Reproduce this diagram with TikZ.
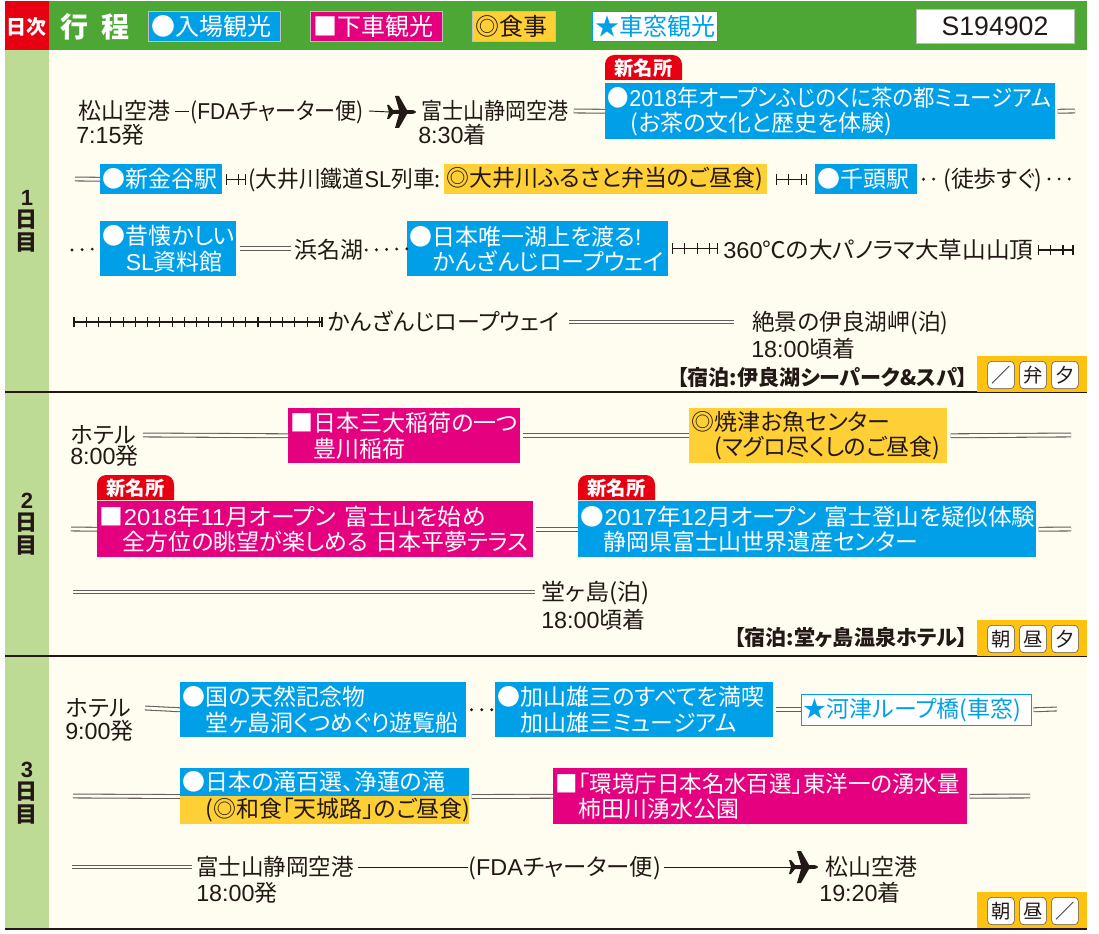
\documentclass[tikz,border=0pt]{standalone}
\usepackage{fontspec}
\usepackage{graphicx}
\setmainfont[RawFeature={+palt}]{Noto Sans CJK JP}
\newfontfamily\latinfont{Liberation Sans}
\usetikzlibrary{decorations.markings}
\newcommand{\en}[1]{{\latinfont #1}}
\newcommand{\tm}[1]{{\latinfont\fontsize{17.5}{19}\selectfont #1}}
\newcommand{\sx}[2]{\scalebox{#1}[1]{#2}}
\definecolor{ink}{HTML}{231815}
\definecolor{headgreen}{HTML}{4CA735}
\definecolor{sidegreen}{HTML}{BEDB96}
\definecolor{paper}{HTML}{FFFDF0}
\definecolor{dayred}{HTML}{E60012}
\definecolor{spotblue}{HTML}{00A0E9}
\definecolor{busred}{HTML}{E4007F}
\definecolor{foodyellow}{HTML}{FFCF36}
\definecolor{mealyellow}{HTML}{FFC20E}
\tikzset{
  label/.style={inner sep=0pt, anchor=west, text=ink, text height=14.5pt, text depth=2pt, font=\fontsize{17.2}{19}\selectfont},
  size/.code 2 args={\pgfmathsetlengthmacro\boxw{#1*0.75pt-4pt}\pgfmathsetlengthmacro\boxh{#2*0.75pt}\tikzset{text width=\boxw,minimum height=\boxh}},
  panel/.style={anchor=north west, inner xsep=2pt, inner ysep=0pt, align=left, font=\fontsize{17.2}{19}\selectfont},
  spot/.style={panel, fill=spotblue, text=white},
  bus/.style={panel, fill=busred, text=white},
  food/.style={panel, fill=foodyellow, text=ink},
  window/.style={panel, fill=white, draw=spotblue, text=spotblue},
  legend/.style={draw=white!75!black, line width=0.6pt, font=\fontsize{18}{19}\selectfont},
  rail/.style={draw=ink!70, line width=0.8pt, double=paper, double distance=2.1pt},
  track/.style={draw=ink, line width=1pt, postaction={decorate, decoration={markings,
    mark=between positions 0 and 1 step 9.2pt with {\draw[ink, line width=0.8pt] (0,-4pt) -- (0,4pt);},
    mark=at position 1 with {\draw[ink, line width=0.8pt] (0,-4pt) -- (0,4pt);}}}},
  dots/.style={draw=ink, line cap=round, line width=2.4pt, dash pattern=on 0pt off 7.6pt},
  flight/.style={draw=ink, line width=0.7pt},
  meal/.style={draw=ink!75, fill=white, rounded corners=3pt, inner sep=0pt, minimum width=20pt, minimum height=20.5pt, text=ink, font=\fontsize{14.5}{15}\selectfont},
  stay/.style={inner sep=0pt, anchor=east, text=ink, font=\fontsize{15.8}{16}\selectfont\bfseries},
  plane/.pic={
    \fill[ink] (14,0) .. controls (13,-2) and (10,-2) .. (5,-2) -- (-3,-16) -- (-7,-16) -- (-3,-2) -- (-9,-2) -- (-13,-7) -- (-15,-7) -- (-13,0)
      -- (-15,7) -- (-13,7) -- (-9,2) -- (-3,2) -- (-7,16) -- (-3,16) -- (5,2) .. controls (10,2) and (13,2) .. (14,0) -- cycle;
    \coordinate (-tail) at (-12,0);
  }
}
\begin{document}
\begin{tikzpicture}[x=0.75pt, y=-0.75pt]
  \useasboundingbox (0,0) rectangle (1099,934);
  \fill[paper] (49,50) rectangle (1087,929);
  \fill[sidegreen] (5,50) rectangle (49,929);
  \fill[headgreen] (49,1) rectangle (1087,50);
  \fill[dayred] (5,1) rectangle (49,50);
  \foreach \y in {392, 656, 929}
    \draw[ink, line width=0.8pt] (5,\y) -- (1087,\y);

  \node[inner sep=0pt, text=white, font=\fontsize{15}{16}\selectfont\bfseries] (daycol) at (27,27) {日次};
  \node[inner sep=0pt, text=white, font=\fontsize{21}{22}\selectfont\bfseries] (route) at (95,27) {行\hspace{0.45em}程};
  \node[spot, legend, size={132}{30}] (leg1) at (148,11) {●入場観光};
  \node[bus, legend, size={132}{30}] (leg2) at (310,11) {■下車観光};
  \node[food, legend, size={83}{30}] (leg3) at (472,11) {◎食事};
  \node[window, legend, draw=spotblue, size={125}{30}] (leg4) at (592,11) {★車窓観光};
  \node[draw=white!75!black, fill=white, text=ink, minimum width=118.5pt, minimum height=25.5pt, inner sep=0pt, font=\fontsize{20}{21}\selectfont\latinfont] (code) at (995,26) {S194902};

  \foreach \nm/\y/\n in {daya/221/1, dayb/524/2, dayc/793/3}
    \node[inner sep=0pt, align=center, text=ink, font=\fontsize{16.5}{17}\selectfont\bfseries] (\nm) at (27,\y) {\en{\n}\\日\\目};

  \foreach \x/\y/\nm in {605/80/taga, 97/500/tagb, 578/500/tagc} {
    \fill[dayred] (\x,\y) [rounded corners=7pt] -- (\x,\y-25) -- (\x+77,\y-25) [sharp corners] -- (\x+77,\y) -- cycle;
    \node[inner sep=0pt, text=white, font=\fontsize{14.5}{15}\selectfont\bfseries] (\nm) at (\x+38.5,\y-12) {新名所};
  }

  % day 1
  \node[label] (matsu) at (78,111) {松山空港};
  \node[label] (fda) at (190,111) {\sx{.917}{(\en{FDA}チャーター便)}};
  \pic (pla) at (402,112) {plane};
  \node[label] (fuji) at (421,111) {\sx{.917}{富士山静岡空港}};
  \node[label] at (76,135) (ta) {\tm{7:15}発};
  \node[label] at (418,135) (tb) {\tm{8:30}着};
  \node[spot, size={450}{56}] (muse) at (605,83) {\sx{.935}{●\en{2018}年オープンふじのくに茶の都ミュージアム}\\\hspace*{1em}(お茶の文化と歴史を体験)};
  \coordinate (enda) at (1075,111);
  \draw[flight] (matsu.east) ++(5,0) -- ++(14,0);
  \draw[flight] (fda.east) ++(5,0) -- (pla-tail);
  \draw[rail] (fuji.east) ++(5,0) -- (muse.west);
  \draw[rail] (muse.east) ++(2,0) -- (enda);

  \coordinate (startb) at (75,179);
  \node[spot, size={122}{30}] (kanaya) at (100,164) {●新金谷駅};
  \node[label] (oigawa) at (248,179) {\sx{.95}{(大井川鐵道\en{SL}列車:}};
  \node[food, size={323}{30}] (bento) at (444,164) {◎大井川ふるさと弁当のご昼食)};
  \node[spot, size={102}{30}] (senzu) at (815,164) {●千頭駅};
  \node[label] (walk) at (943,179) {(徒歩すぐ)};
  \coordinate (endb) at (1074,179);
  \draw[rail] (startb) -- (kanaya.west);
  \draw[track] (kanaya.east) ++(4,0) -- ++(19,0);
  \draw[track] (bento.east) ++(9,0) -- ++(30,0);
  \draw[dots] (senzu.east) ++(6,0) -- (walk.west);
  \draw[dots] (walk.east) ++(6,0) -- (endb);

  \coordinate (startc) at (72,250);
  \node[spot, size={136}{55}] (sl) at (100,221) {●昔懐かしい\\\hspace*{1em}\en{SL}資料館};
  \node[label] (hamana) at (294,250) {浜名湖};
  \node[spot, size={261}{55}] (kanzan) at (407,221) {●日本唯一湖上を渡る\en{!}\\\hspace*{1em}かんざんじロープウェイ};
  \node[label] (okusa) at (723,250) {\sx{1.03}{\en{360}℃の大パノラマ大草山山頂}};
  \coordinate (endc) at (1073,250);
  \draw[dots] (startc) -- (sl.west);
  \draw[rail] (sl.east) ++(3,0) -- ++(51,0);
  \draw[dots] (hamana.east) ++(3,0) -- (kanzan.west);
  \draw[track] (kanzan.east) ++(4,0) -- ++(45,0);
  \draw[track] (okusa.east) ++(5,0) -- (endc);

  \coordinate (startd) at (74,322);
  \node[label] (rope) at (328,322) {かんざんじロープウェイ};
  \node[label] (irago) at (752,322) {\sx{.99}{絶景の伊良湖岬(泊)}};
  \node[label] (td) at (751,349) {\tm{18:00}頃着};
  \draw[track] (startd) -- ++(248,0);
  \draw[rail] (rope.east) ++(10,0) -- ++(165,0);
  \node[stay] (staya) at (968,378) {【宿泊:伊良湖シーパーク\&スパ】};

  % day 2
  \node[label] (hotelb) at (71,435) {ホテル};
  \node[label] (te) at (70,456) {\tm{8:00}発};
  \node[bus, size={232}{55}] (toyo) at (288,408) {■日本三大稲荷の一つ\\\hspace*{1em}豊川稲荷};
  \node[food, size={258}{55}] (yaizu) at (689,408) {◎焼津お魚センター\\\hspace*{1em}(マグロ尽くしのご昼食)};
  \coordinate (ende) at (1071,435);
  \draw[rail] (hotelb.east) ++(7,0) -- (toyo.west);
  \draw[rail] (toyo.east) ++(2,0) -- (yaizu.west);
  \draw[rail] (yaizu.east) ++(3,0) -- (ende);

  \coordinate (startf) at (71,529);
  \node[bus, size={436}{56}] (yume) at (97,501) {\sx{1.04}{■\en{2018}年\en{11}月オープン 富士山を始め}\\\hspace*{1em}全方位の眺望が楽しめる 日本平夢テラス};
  \node[spot, size={458}{56}] (heri) at (578,501) {\sx{1.03}{●\en{2017}年\en{12}月オープン 富士登山を疑似体験}\\\hspace*{1em}静岡県富士山世界遺産センター};
  \coordinate (endf) at (1071,529);
  \draw[rail] (startf) -- (yume.west);
  \draw[rail] (yume.east) ++(2,0) -- (heri.west);
  \draw[rail] (heri.east) ++(2,0) -- (endf);

  \coordinate (startg) at (73,592);
  \node[label] (dogas) at (541,592) {\sx{1.05}{堂ヶ島(泊)}};
  \node[label] (tg) at (541,620) {\tm{18:00}頃着};
  \draw[rail] (startg) -- ++(462,0);
  \node[stay] (stayb) at (968,638) {【宿泊:堂ヶ島温泉ホテル】};

  % day 3
  \node[label] (hotelc) at (66,708) {ホテル};
  \node[label] (th) at (65,731) {\tm{9:00}発};
  \node[spot, size={286}{55}] (boat) at (180,682) {●国の天然記念物\\\hspace*{1em}堂ヶ島洞くつめぐり遊覧船};
  \node[spot, size={278}{55}] (kayama) at (495,682) {●加山雄三のすべてを満喫\\\hspace*{1em}加山雄三ミュージアム};
  \node[window, size={230}{31}] (kawazu) at (801,694) {★河津ループ橋(車窓)};
  \coordinate (endh) at (1057,709);
  \draw[rail] (hotelc.east) ++(14,0) -- (boat.west);
  \draw[dots] (boat.east) ++(5,0) -- (kayama.west);
  \draw[rail] (kayama.east) ++(2,0) -- (kawazu.west);
  \draw[rail] (kawazu.east) ++(2,0) -- (endh);

  \coordinate (starti) at (73,796);
  \node[spot, size={289}{28}] (joren) at (180,768) {●日本の滝百選、浄蓮の滝};
  \node[food, size={289}{28}] (amagi) at (180,796) {\hspace*{1em}(◎和食「天城路」のご昼食)};
  \node[bus, size={414}{56}] (kakita) at (553,768) {\sx{.98}{■「環境庁日本名水百選」東洋一の湧水量}\\\hspace*{1em}柿田川湧水公園};
  \coordinate (endi) at (1030,796);
  \draw[rail] (starti) -- (joren.south west);
  \draw[rail] (joren.south east) ++(2,0) -- (kakita.west);
  \draw[rail] (kakita.east) ++(2,0) -- (endi);

  \coordinate (startj) at (72,867);
  \node[label] (fujib) at (196,867) {\sx{.98}{富士山静岡空港}};
  \node[label] (fdb) at (468,867) {\sx{1.02}{(\en{FDA}チャーター便)}};
  \pic (plb) at (804,867) {plane};
  \node[label] (matsub) at (825,867) {松山空港};
  \node[label] (tj) at (196,893) {\tm{18:00}発};
  \node[label] (tk) at (819,893) {\tm{19:20}着};
  \draw[rail] (startj) -- ++(120,0);
  \draw[flight] (fujib.east) ++(4,0) -- (fdb.west);
  \draw[flight] (fdb.east) ++(3,0) -- (plb-tail);

  \foreach \y/\nm/\a/\b/\c in {356/ma/／/弁/夕, 620/mb/朝/昼/夕, 892/mc/朝/昼/／} {
    \fill[mealyellow] (977,\y) rectangle (1087,\y+36);
    \node[meal] (\nm1) at (1001,\y+19) {\a};
    \node[meal] (\nm2) at (1033,\y+19) {\b};
    \node[meal] (\nm3) at (1065,\y+19) {\c};
  }
\end{tikzpicture}
\end{document}
